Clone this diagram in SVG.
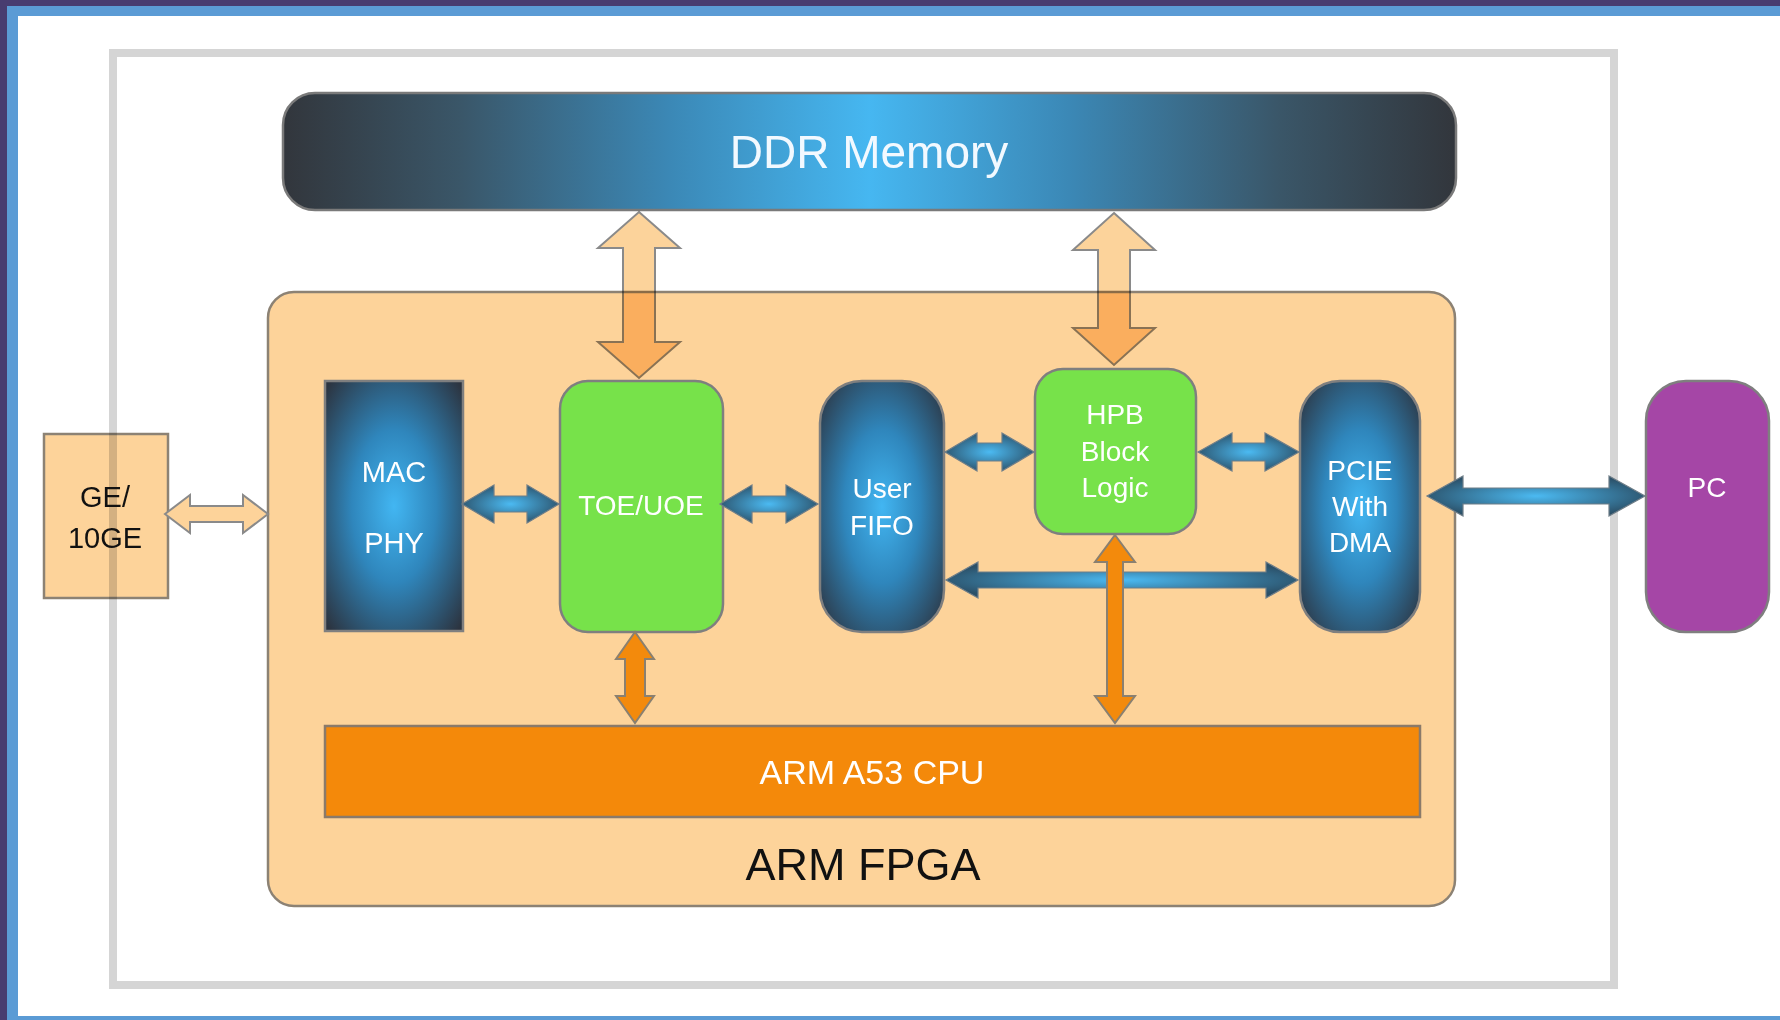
<svg xmlns="http://www.w3.org/2000/svg" width="1780" height="1020" viewBox="0 0 1780 1020">
  <defs>
    <linearGradient id="ddrGrad" x1="0" y1="0" x2="1" y2="0">
      <stop offset="0" stop-color="#32363c"/>
      <stop offset="0.15" stop-color="#3a5668"/>
      <stop offset="0.33" stop-color="#3b88b6"/>
      <stop offset="0.5" stop-color="#46b7f1"/>
      <stop offset="0.67" stop-color="#3b88b6"/>
      <stop offset="0.85" stop-color="#3a5668"/>
      <stop offset="1" stop-color="#32363c"/>
    </linearGradient>
    <radialGradient id="nodeGrad" cx="0.5" cy="0.5" r="0.68">
      <stop offset="0" stop-color="#42b6f2"/>
      <stop offset="0.45" stop-color="#2f86bc"/>
      <stop offset="1" stop-color="#2c3440"/>
    </radialGradient>
    <radialGradient id="arrowGrad" cx="0.5" cy="0.5" r="0.55">
      <stop offset="0" stop-color="#4bbaf2"/>
      <stop offset="1" stop-color="#2b5068"/>
    </radialGradient>
    <style>
      .lbl { font-family: "Liberation Sans", Arial, Helvetica, sans-serif; text-anchor: middle; }
      .w { fill: #ffffff; }
      .k { fill: #111111; }
      .node { stroke: #7f7f7f; stroke-width: 2.5; }
      .blue { fill: url(#nodeGrad); }
      .green { fill: #77e24a; }
      .barrow { fill: url(#arrowGrad); stroke: #6f7e88; stroke-width: 1.2; }
      .parrow { fill: #fcd39b; stroke: #8a8a8a; stroke-width: 2; mix-blend-mode: multiply; }
      .oarrow { fill: #f38a0c; stroke: #8a8070; stroke-width: 2; }
    </style>
  </defs>

  <!-- page background -->
  <rect x="0" y="0" width="1780" height="1020" fill="#483c70"/>
  <rect x="7" y="6" width="1773" height="1014" fill="#5b9bd5"/>
  <rect x="18" y="16" width="1762" height="1000" fill="#ffffff"/>

  <!-- outer gray frame -->
  <rect x="113" y="53" width="1501" height="932" fill="none" stroke="#d5d5d5" stroke-width="8"/>

  <g id="ddr">
    <rect x="283" y="93" width="1173" height="117" rx="32" fill="url(#ddrGrad)" stroke="#7a7a7a" stroke-width="2.5"/>
    <text class="lbl" x="869" y="168" font-size="46" fill="#f2f9ff">DDR Memory</text>
  </g>

  <g id="arm-fpga">
    <rect x="268" y="292" width="1187" height="614" rx="26" fill="#fdd39a" stroke="#8c8274" stroke-width="2.5"/>
    <text class="lbl k" x="863" y="880" font-size="45">ARM FPGA</text>
  </g>

  <g id="ge">
    <rect x="44" y="434" width="124" height="164" fill="#fdd39a" stroke="#8c8274" stroke-width="2.5" style="mix-blend-mode:multiply"/>
    <text class="lbl k" x="105" y="507" font-size="29">GE/</text>
    <text class="lbl k" x="105" y="548" font-size="29">10GE</text>
  </g>

  <g id="mac-phy">
    <rect class="node blue" x="325" y="381" width="138" height="250"/>
    <text class="lbl w" x="394" y="482" font-size="29">MAC</text>
    <text class="lbl w" x="394" y="553" font-size="29">PHY</text>
  </g>

  <g id="toe-uoe">
    <rect class="node green" x="560" y="381" width="163" height="251" rx="28"/>
    <text class="lbl w" x="641" y="515" font-size="28">TOE/UOE</text>
  </g>

  <g id="user-fifo">
    <rect class="node blue" x="820" y="381" width="124" height="251" rx="42"/>
    <text class="lbl w" x="882" y="498" font-size="28">User</text>
    <text class="lbl w" x="882" y="535" font-size="28">FIFO</text>
  </g>

  <g id="hpb">
    <rect class="node green" x="1035" y="369" width="161" height="165" rx="28"/>
    <text class="lbl w" x="1115" y="424" font-size="28">HPB</text>
    <text class="lbl w" x="1115" y="461" font-size="28">Block</text>
    <text class="lbl w" x="1115" y="497" font-size="28">Logic</text>
  </g>

  <g id="pcie">
    <rect class="node blue" x="1300" y="381" width="120" height="251" rx="40"/>
    <text class="lbl w" x="1360" y="480" font-size="28">PCIE</text>
    <text class="lbl w" x="1360" y="516" font-size="28">With</text>
    <text class="lbl w" x="1360" y="552" font-size="28">DMA</text>
  </g>

  <g id="pc">
    <rect class="node" x="1646" y="381" width="123" height="251" rx="40" fill="#a546a6"/>
    <text class="lbl w" x="1707" y="497" font-size="28">PC</text>
  </g>

  <g id="cpu">
    <rect x="325" y="726" width="1095" height="91" fill="#f4890a" stroke="#8a7a6a" stroke-width="2.5"/>
    <text class="lbl w" x="872" y="784" font-size="34">ARM A53 CPU</text>
  </g>

  <g id="connectors">
    <polygon points="165,514 190,495 190,506 243,506 243,495 268,514 243,533 243,522 190,522 190,533" fill="#fdd39a" stroke="#8a8a8a" stroke-width="2"/>
    <polygon class="barrow" points="462,504 494,485 494,496 527,496 527,485 559,504 527,523 527,512 494,512 494,523"/>
    <polygon class="barrow" points="720,504 752,485 752,496 786,496 786,485 818,504 786,523 786,512 752,512 752,523"/>
    <polygon class="barrow" points="945,452 977,433 977,443 1002,443 1002,433 1034,452 1002,471 1002,461 977,461 977,471"/>
    <polygon class="barrow" points="1198,452 1232,433 1232,443 1265,443 1265,433 1299,452 1265,471 1265,461 1232,461 1232,471"/>
    <polygon class="barrow" points="1427,496 1463,476 1463,488 1609,488 1609,476 1645,496 1609,516 1609,504 1463,504 1463,516"/>
    <polygon class="barrow" points="946,580 978,562 978,572 1266,572 1266,562 1298,580 1266,598 1266,588 978,588 978,598"/>
    <polygon class="parrow" points="639,212 680,248 655,248 655,342 680,342 639,378 598,342 623,342 623,248 598,248"/>
    <polygon class="parrow" points="1114,213 1155,250 1130,250 1130,328 1155,328 1114,365 1073,328 1098,328 1098,250 1073,250"/>
    <polygon class="oarrow" points="635,632 654,659 645,659 645,696 654,696 635,723 616,696 625,696 625,659 616,659"/>
    <polygon class="oarrow" points="1115,535 1135,562 1123,562 1123,696 1135,696 1115,723 1095,696 1107,696 1107,562 1095,562"/>
  </g>
</svg>
